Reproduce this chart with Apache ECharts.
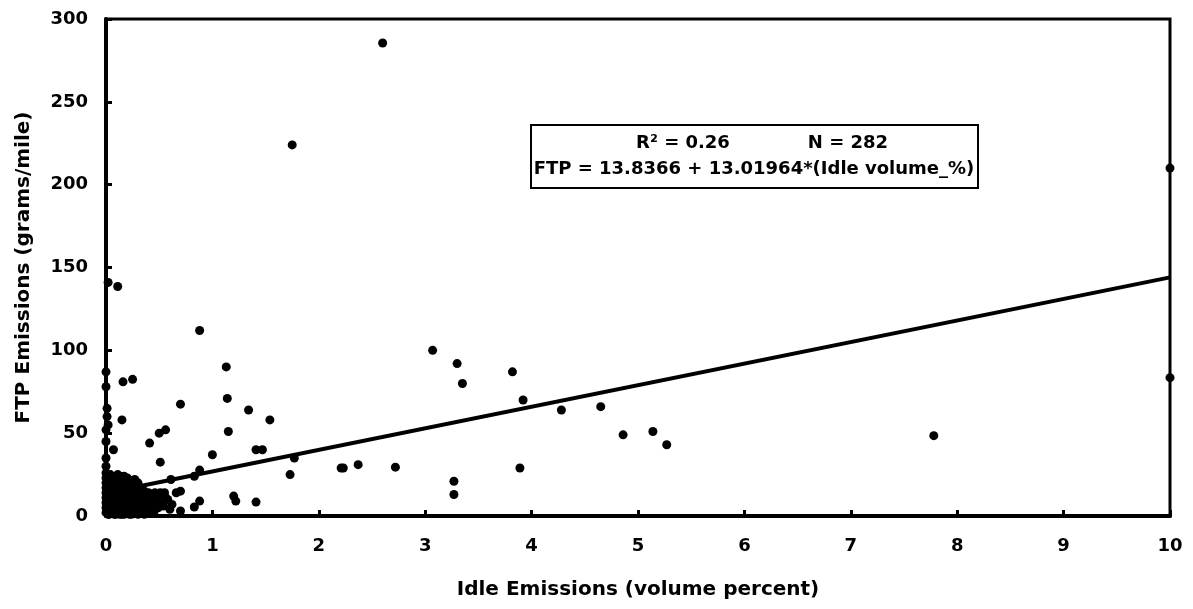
<!DOCTYPE html>
<html>
<head>
<meta charset="utf-8">
<script src="https://cdn.jsdelivr.net/npm/echarts@6/dist/echarts.min.js"></script>
<style>
html,body{margin:0;padding:0;background:#fff;}
#chart{width:1193px;height:609px;}
</style>
</head>
<body>
<div id="chart"></div>
<script>
// ---- data ----
const xTicks = [0,1,2,3,4,5,6,7,8,9,10];
const yTicks = [0,50,100,150,200,250,300];

// outlying points (Idle %, FTP g/mi)
const outlierPoints = [
  [2.60,285.5],[1.75,224],[10,210],[10,83.5],[7.78,48.5],[0.88,112],
  [0.02,141],[0.11,138.5],[0,87],[0,78],[0.16,81],[0.25,82.5],[0.15,58],
  [1.13,90],[1.14,71],[0.70,67.5],[1.34,64],[1.54,58],[0.50,50],[0.56,52],
  [1.15,51],[0.41,44],[1.41,40],[1.47,40],[1.00,37],[0.07,40],[0.51,32.5],
  [1.77,35],[1.73,25],[2.21,29],[0.88,27.7],[0.83,24],[0.61,22],[0.70,15],
  [1.20,12],[1.22,9],[1.41,8.4],[0.88,9],[0.83,5.4],[0.70,3],
  [3.07,100],[3.30,92],[3.35,80],[3.82,87],[3.92,70],[4.28,64],[4.65,66],
  [4.86,49],[5.14,51],[5.27,43],[2.23,29],[2.37,31],[2.72,29.5],
  [3.27,21],[3.27,13],[3.89,29],
  [0.01,60],[0.01,65],[0,52],[0.02,55],[0,45],[0,35],[0,30]
];

// dense cluster near the origin
const clusterPoints = [
  [0,2],[0,5],[0,8],[0,11],[0,14],[0,17],[0,20],[0,23],[0,26],
  [0.02,1],[0.02,4],[0.03,7],[0.02,10],[0.03,13],[0.02,16],[0.03,19],[0.02,22],[0.04,25],
  [0.05,2],[0.06,5],[0.05,9],[0.06,12],[0.05,15],[0.07,18],[0.06,21],[0.05,24],
  [0.08,1],[0.09,4],[0.08,7],[0.09,10],[0.10,13],[0.08,16],[0.09,19],[0.10,22],[0.11,25],
  [0.11,2],[0.12,6],[0.12,9],[0.13,12],[0.12,15],[0.13,18],[0.14,21],[0.13,24],
  [0.15,1],[0.16,4],[0.15,7],[0.16,10],[0.17,13],[0.15,16],[0.17,19],[0.16,22],
  [0.18,2],[0.19,5],[0.20,8],[0.19,11],[0.20,14],[0.21,17],[0.19,20],[0.20,23],
  [0.22,1],[0.23,4],[0.22,7],[0.24,10],[0.23,13],[0.24,16],[0.22,19],[0.25,21],
  [0.26,2],[0.27,5],[0.26,8],[0.28,11],[0.27,14],[0.29,17],[0.30,20],
  [0.30,1],[0.31,4],[0.32,7],[0.33,10],[0.31,13],[0.34,16],
  [0.35,2],[0.36,6],[0.37,9],[0.38,12],[0.40,14],
  [0.41,3],[0.43,8],[0.45,11],[0.47,13],[0.50,12],[0.53,13],[0.55,14],
  [0.44,5],[0.48,7],[0.52,9],[0.56,11],[0.58,10],
  [0.60,4],[0.62,7],[0.66,14],
  [0.01,3],[0.04,6],[0.07,3],[0.10,6],[0.14,3],[0.18,9],[0.21,12],[0.25,6],
  [0.29,9],[0.33,3],[0.04,11],[0.07,14],[0.11,17],[0.14,11],[0.18,15],[0.23,18],
  [0.27,22],[0.02,18],[0.06,20],[0.10,9],[0.15,12],[0.20,3],[0.24,1],[0.28,4],
  [0.32,12],[0.36,15],[0.39,6],[0.42,10],[0.46,9],[0.49,5],[0.54,6],
  [0.01,7],[0.03,24],[0.08,23],[0.12,20],[0.17,24],[0.21,22],[0.26,19],
  [0.09,1],[0.13,1],[0.17,1],[0.03,1],[0.06,8],[0.11,11],[0.14,8],[0.19,17],
  [0.23,9],[0.28,15],[0.31,18],[0.35,11],[0.38,3],[0.42,12],[0.46,14],[0.51,14],
  [0.04,3],[0.07,9],[0.04,15],[0.08,12],[0.11,14],[0.13,5],[0.16,7],[0.18,12],
  [0.21,6],[0.21,15],[0.24,13],[0.25,3],[0.27,8],[0.29,12],[0.30,6],[0.32,15],
  [0.33,8],[0.34,5],[0.36,1],[0.37,13],[0.39,10],[0.40,2],[0.42,6],[0.45,2],
  [0.06,17],[0.09,15],[0.12,22],[0.15,19],[0.18,18],[0.22,16],[0.25,16],[0.28,19],
  [0.10,24],[0.14,23],[0.19,21],[0.23,21],[0.03,21],[0.01,12],[0.01,18],[0.26,11]
];

// fitted line shown in the box
const fitIntercept = 13.8366;
const fitSlope = 13.01964;
const fitX = [0, 10];

const statLine1a = 'R² = 0.26';
const statLine1b = 'N = 282';
const statLine2 = 'FTP = 13.8366 + 13.01964*(Idle volume_%)';

const font = 'DejaVu Sans';

const chart = echarts.init(document.getElementById('chart'), null, {renderer:'canvas'});
chart.setOption({
  animation:false,
  backgroundColor:'#fff',
  grid:{left:106,right:23,top:19,bottom:93,show:true,borderColor:'#000',borderWidth:3,backgroundColor:'transparent'},
  xAxis:{
    type:'value',min:xTicks[0],max:xTicks[xTicks.length-1],interval:1,
    axisLine:{show:true,onZero:false,lineStyle:{color:'#000',width:4}},
    axisTick:{show:true,inside:true,length:6,lineStyle:{color:'#000',width:3}},
    axisLabel:{margin:21,color:'#000',fontFamily:font,fontWeight:'bold',fontSize:18},
    splitLine:{show:false},
    name:'Idle Emissions (volume percent)',nameLocation:'middle',nameGap:64,
    nameTextStyle:{color:'#000',fontFamily:font,fontWeight:'bold',fontSize:20}
  },
  yAxis:{
    type:'value',min:yTicks[0],max:yTicks[yTicks.length-1],interval:50,
    axisLine:{show:true,onZero:false,lineStyle:{color:'#000',width:4}},
    axisTick:{show:true,inside:true,length:6,lineStyle:{color:'#000',width:3}},
    axisLabel:{margin:18,color:'#000',fontFamily:font,fontWeight:'bold',fontSize:18},
    splitLine:{show:false},
    name:'FTP Emissions (grams/mile)',nameLocation:'middle',nameGap:72,nameRotate:90,
    nameTextStyle:{color:'#000',fontFamily:font,fontWeight:'bold',fontSize:20}
  },
  series:[
    {type:'scatter',data:clusterPoints.concat(outlierPoints),symbol:'circle',symbolSize:9,
     itemStyle:{color:'#000',opacity:1},emphasis:{disabled:true},z:3},
    {type:'line',data:fitX.map(x=>[x,fitIntercept+fitSlope*x]),showSymbol:false,symbol:'none',
     lineStyle:{color:'#000',width:4},z:4}
  ],
  graphic:[
    {type:'rect',left:530,top:124,z:10,shape:{width:447,height:63},
     style:{fill:'#fff',stroke:'#000',lineWidth:2}},
    {type:'text',z:11,x:683,y:143,style:{text:statLine1a,fill:'#000',font:'bold 18px "DejaVu Sans"',align:'center',verticalAlign:'middle'}},
    {type:'text',z:11,x:848,y:143,style:{text:statLine1b,fill:'#000',font:'bold 18px "DejaVu Sans"',align:'center',verticalAlign:'middle'}},
    {type:'text',z:11,x:754,y:169,style:{text:statLine2,fill:'#000',font:'bold 18px "DejaVu Sans"',align:'center',verticalAlign:'middle'}}
  ]
});
</script>
</body>
</html>
